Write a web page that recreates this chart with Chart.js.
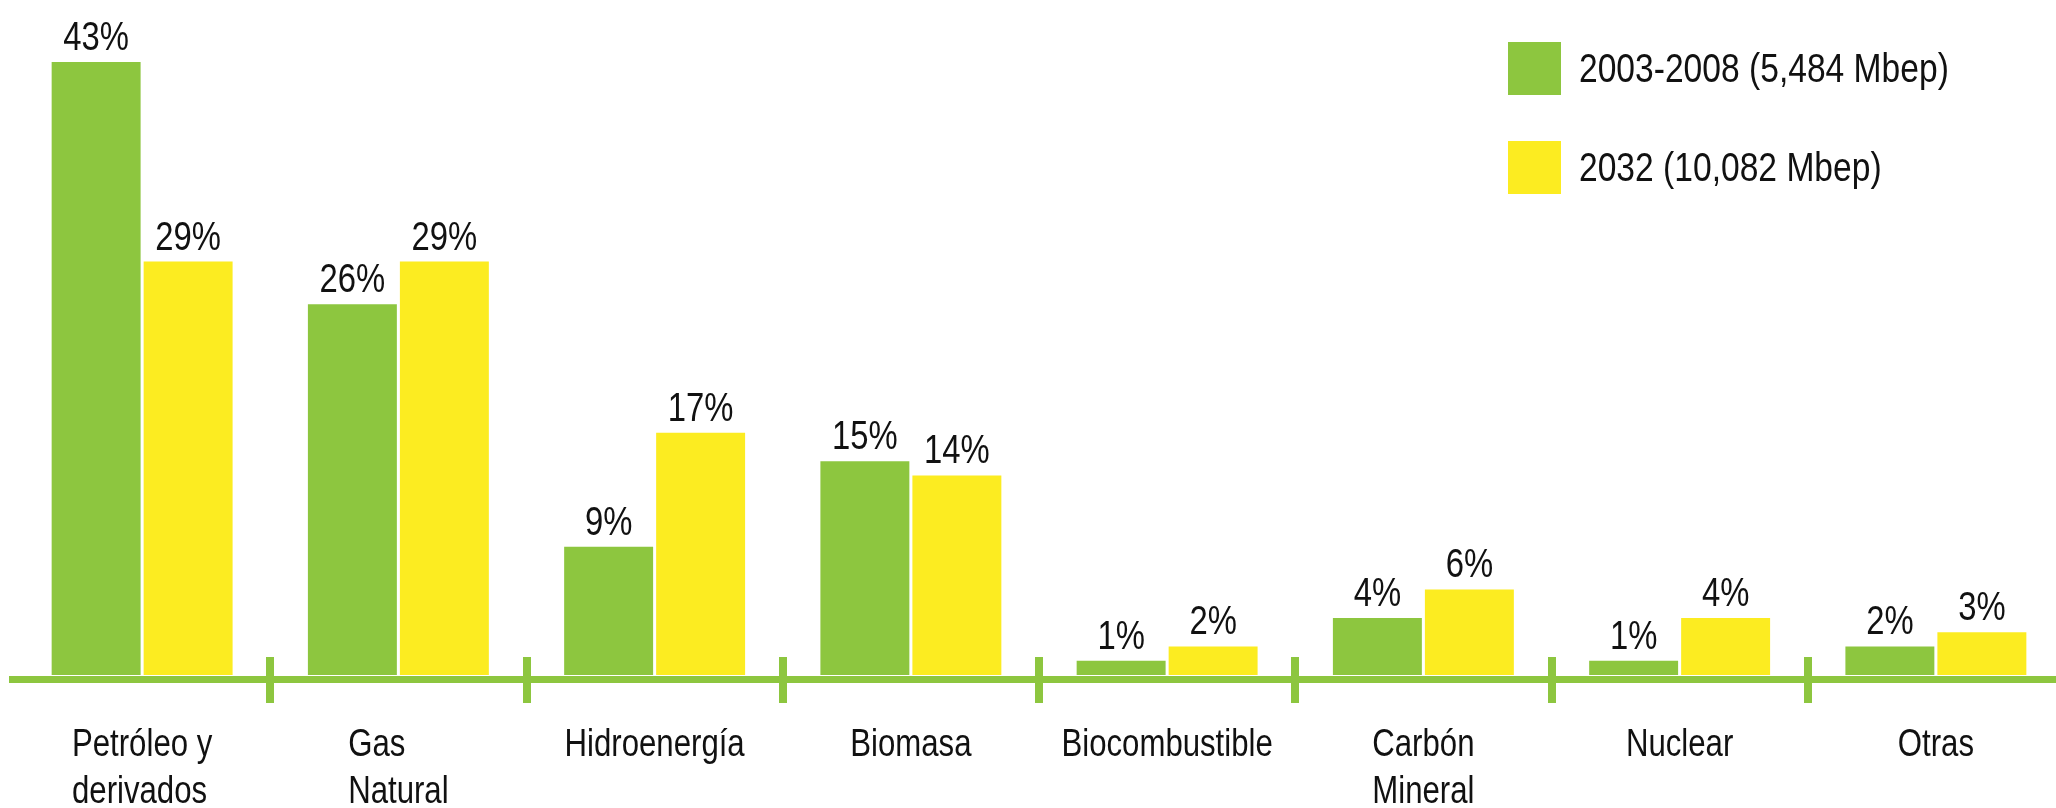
<!DOCTYPE html>
<html lang="es">
<head>
<meta charset="utf-8">
<title>Matriz energética</title>
<script src="https://cdn.jsdelivr.net/npm/chart.js@4/dist/chart.umd.min.js"></script>
<style>
  html, body { margin: 0; padding: 0; background: #fff; overflow: hidden; }
  #contenedor { position: relative; width: 2064px; height: 808px; }
  #leyenda {
    position: absolute; left: 1508px; top: 42px;
    font-family: "Liberation Sans", Arial, sans-serif;
    font-size: 40px; color: #111;
  }
  .item { display: flex; align-items: center; height: 53px; margin-bottom: 46px; }
  .cuadro { width: 53px; height: 53px; margin-right: 18px; flex: none; }
  .texto { display: inline-block; white-space: nowrap; transform: scaleX(0.84); transform-origin: left center; }
</style>
</head>
<body>
<div id="contenedor">
  <canvas id="grafico" width="2064" height="808"></canvas>
  <div id="leyenda"></div>
</div>
<script>
// Categorías de energía (las de dos renglones van como arreglo)
const categorias = [["Petróleo y", "derivados"], ["Gas", "Natural"], "Hidroenergía", "Biomasa", "Biocombustible", ["Carbón", "Mineral"], "Nuclear", "Otras"];

// Participación porcentual de cada fuente
const periodo2003 = [43, 26, 9, 15, 1, 4, 1, 2];
const periodo2032 = [29, 29, 17, 14, 2, 6, 4, 3];

const nombresSeries = ["2003-2008 (5,484 Mbep)", "2032 (10,082 Mbep)"];

const verde = "#8dc63f";
const amarillo = "#fcec21";
const fuente = '"Liberation Sans", Arial, sans-serif';
const angosto = 0.82; // compresión horizontal para imitar una letra condensada

// Escribe texto comprimido a lo ancho, con el punto (x, y) como ancla
function textoAngosto(ctx, texto, x, y) {
    ctx.save();
    ctx.translate(x, y);
    ctx.scale(angosto, 1);
    ctx.fillText(texto, 0, 0);
    ctx.restore();
}

// Eje inferior, marcas entre categorías, etiquetas de valor y nombres de categoría
const dibujoExtra = {
    id: "dibujoExtra",
    afterDatasetsDraw(chart) {
        const ctx = chart.ctx;
        const area = chart.chartArea;
        const ejeX = chart.scales.x;

        ctx.save();
        ctx.fillStyle = verde;
        ctx.fillRect(9, area.bottom + 1, chart.width, 7);

        for (let i = 1; i < categorias.length; i++) {
            const x = (ejeX.getPixelForValue(i - 1) + ejeX.getPixelForValue(i)) / 2;
            ctx.fillRect(Math.round(x) - 4, area.bottom - 18, 8, 46);
        }

        // Porcentajes encima de cada barra
        ctx.fillStyle = "#111";
        ctx.font = "40px " + fuente;
        ctx.textAlign = "center";
        ctx.textBaseline = "alphabetic";
        chart.data.datasets.forEach((ds, d) => {
            chart.getDatasetMeta(d).data.forEach((barra, i) => {
                textoAngosto(ctx, ds.data[i] + "%", barra.x, barra.y - 12);
            });
        });

        // Nombres de categoría, alineados a la izquierda dentro de su bloque
        ctx.font = "38px " + fuente;
        ctx.textAlign = "left";
        categorias.forEach((cat, i) => {
            const lineas = Array.isArray(cat) ? cat : [cat];
            const ancho = Math.max(...lineas.map(l => ctx.measureText(l).width)) * angosto;
            const x0 = ejeX.getPixelForValue(i) - ancho / 2;
            lineas.forEach((l, j) => {
                textoAngosto(ctx, l, x0, area.bottom + 81 + j * 47);
            });
        });
        ctx.restore();
    }
};

new Chart(document.getElementById("grafico"), {
    type: "bar",
    data: {
        labels: categorias,
        datasets: [
            { label: nombresSeries[0], data: periodo2003, backgroundColor: verde },
            { label: nombresSeries[1], data: periodo2032, backgroundColor: amarillo }
        ]
    },
    options: {
        responsive: false,
        animation: false,
        layout: { padding: { left: 14, right: 0, top: 62, bottom: 133 } },
        datasets: { bar: { categoryPercentage: 0.718, barPercentage: 0.967 } },
        scales: {
            x: { display: false },
            y: { display: false, min: 0, max: 43 }
        },
        plugins: {
            legend: { display: false },
            tooltip: { enabled: false }
        }
    },
    plugins: [dibujoExtra]
});

// Leyenda en HTML, arriba a la derecha
const leyenda = document.getElementById("leyenda");
[verde, amarillo].forEach((color, i) => {
    const item = document.createElement("div");
    item.className = "item";
    item.innerHTML = `<span class="cuadro" style="background:${color}"></span><span class="texto">${nombresSeries[i]}</span>`;
    leyenda.appendChild(item);
});
</script>
</body>
</html>
